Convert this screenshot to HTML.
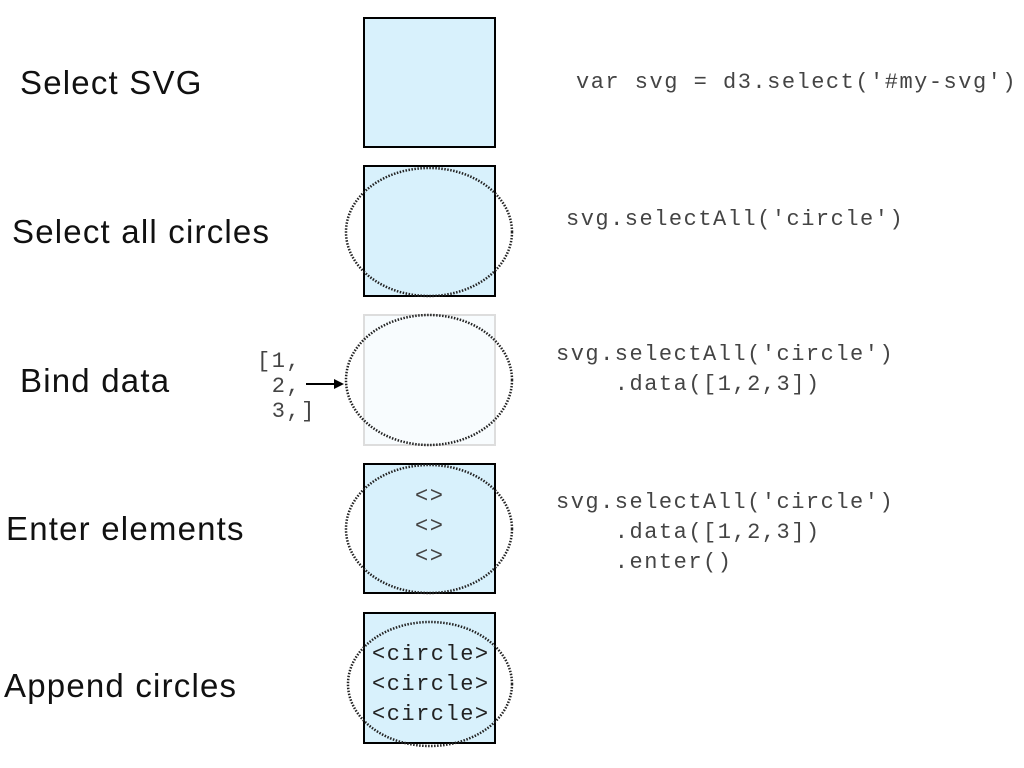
<!DOCTYPE html>
<html><head><style>
body{margin:0;width:1024px;height:768px;background:#fff;position:relative;overflow:hidden}
.l{position:absolute;font-family:"Liberation Sans",sans-serif;font-size:33px;letter-spacing:1.2px;color:#111;white-space:nowrap}
.c{position:absolute;font-family:"Liberation Mono",monospace;font-size:22px;letter-spacing:1.5px;color:#444;white-space:pre;line-height:30px}
</style></head><body>
<svg width="1024" height="768" style="position:absolute;left:0;top:0">
<g fill="#d8f1fc" stroke="#000" stroke-width="2">
<rect x="364" y="18" width="131" height="129"/>
<rect x="364" y="166" width="131" height="130"/>
<rect x="364" y="315" width="131" height="130" fill="#f8fcfe" stroke="#ddd"/>
<rect x="364" y="464" width="131" height="129"/>
<rect x="364" y="613" width="131" height="130"/>
</g>
<g fill="none" stroke="#222" stroke-width="2.5" stroke-dasharray="1.5 1.5">
<ellipse cx="429" cy="232" rx="83" ry="64"/>
<ellipse cx="429" cy="380" rx="83" ry="65"/>
<ellipse cx="429" cy="529" rx="83" ry="64"/>
<ellipse cx="430" cy="684" rx="82" ry="62"/>
</g>
<line x1="306" y1="384" x2="336" y2="384" stroke="#000" stroke-width="2"/>
<polygon points="344,384 334,379 334,389" fill="#000"/>
</svg>
<div class="l" style="left:20px;top:64px">Select SVG</div>
<div class="l" style="left:12px;top:213px">Select all circles</div>
<div class="l" style="left:20px;top:362px">Bind data</div>
<div class="l" style="left:6px;top:510px">Enter elements</div>
<div class="l" style="left:4px;top:667px">Append circles</div>
<div class="c" style="left:576px;top:68px">var svg = d3.select('#my-svg')</div>
<div class="c" style="left:566px;top:205px">svg.selectAll('circle')</div>
<div class="c" style="left:556px;top:340px">svg.selectAll('circle')
    .data([1,2,3])</div>
<div class="c" style="left:556px;top:488px">svg.selectAll('circle')
    .data([1,2,3])
    .enter()</div>
<div class="c" style="left:257px;top:349px;line-height:25px">[1,
 2,
 3,]</div>
<div class="c" style="left:415px;top:482px">&lt;&gt;
&lt;&gt;
&lt;&gt;</div>
<div class="c" style="left:372px;top:640px;color:#222">&lt;circle&gt;
&lt;circle&gt;
&lt;circle&gt;</div>
</body></html>
